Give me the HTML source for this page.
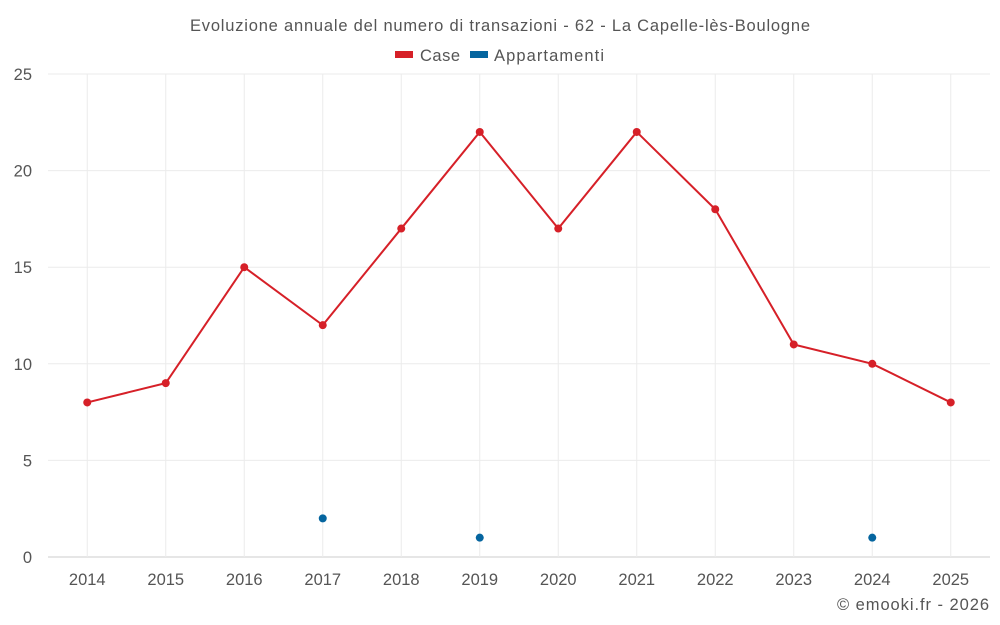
<!DOCTYPE html>
<html><head><meta charset="utf-8"><style>
body{margin:0;background:#fff;}
svg{display:block;font-family:"Liberation Sans",sans-serif;}
</style></head><body>
<svg id="chart" width="1000" height="625">
<text x="500" y="31" text-anchor="middle" font-size="16.5" fill="#555" textLength="620" lengthAdjust="spacing">Evoluzione annuale del numero di transazioni - 62 - La Capelle-lès-Boulogne</text>
<g><rect x="395" y="51" width="18" height="7" fill="#d62028"/><text x="420" y="61" font-size="16.5" fill="#555" textLength="40" lengthAdjust="spacing">Case</text></g>
<g><rect x="470" y="51" width="18" height="7" fill="#05659f"/><text x="494" y="61" font-size="16.5" fill="#555" textLength="110" lengthAdjust="spacing">Appartamenti</text></g>
<g id="grid"></g><g id="axes"></g><g id="series"></g>
<text x="989" y="610" text-anchor="end" font-size="16.5" fill="#555" textLength="152" lengthAdjust="spacing">© emooki.fr - 2026</text>
</svg>
<script>
const years=[2014,2015,2016,2017,2018,2019,2020,2021,2022,2023,2024,2025];
const caseVals=[8,9,15,12,17,22,17,22,18,11,10,8];
const appVals=[null,null,null,2,null,1,null,null,null,null,1,null];
const yTicks=[0,5,10,15,20,25];
const L=48,R=990,T=74,B=557,yMax=25;
const bw=(R-L)/years.length;
const x=i=>L+bw*(i+0.5);
const y=v=>B-(v/yMax)*(B-T);
const NS="http://www.w3.org/2000/svg";
function mk(tag,attrs,parent){const e=document.createElementNS(NS,tag);for(const k in attrs)e.setAttribute(k,attrs[k]);document.getElementById(parent).appendChild(e);return e;}
yTicks.forEach(t=>{
 const g=mk('line',{x1:L,x2:R,y1:y(t),y2:y(t),stroke:t===0?'#ccc':'#ebebeb','stroke-width':1},'grid');
 
 
 const lb=mk('text',{x:32,y:y(t)+6,'text-anchor':'end','font-size':16.5,fill:'#555'},'axes');
 lb.textContent=t;
 
 
});
years.forEach((yr,i)=>{
 const g=mk('line',{x1:x(i),x2:x(i),y1:T,y2:B,stroke:'#ebebeb','stroke-width':1},'grid');
 
 
 const lb=mk('text',{x:x(i),y:585,'text-anchor':'middle','font-size':16.5,fill:'#555'},'axes');
 lb.textContent=yr;
 
 
});
const pts=caseVals.map((v,i)=>x(i)+','+y(v)).join(' ');
const pl=mk('polyline',{points:pts,fill:'none',stroke:'#d62028','stroke-width':2},'series');


caseVals.forEach((v,i)=>{
 const c=mk('circle',{cx:x(i),cy:y(v),r:4,fill:'#d62028'},'series');
 
 
});
appVals.forEach((v,i)=>{
 if(v===null)return;
 const c=mk('circle',{cx:x(i),cy:y(v),r:4,fill:'#05659f'},'series');
 
 
});
</script>
</body></html>
